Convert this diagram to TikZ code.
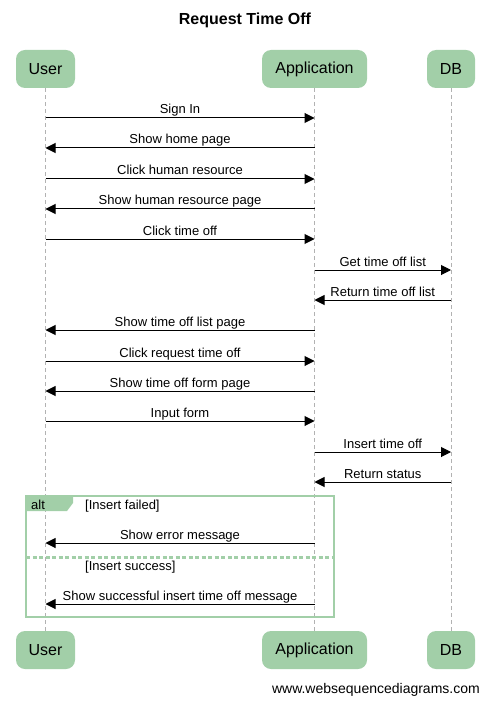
\documentclass[tikz,border=0pt]{standalone}
\usepackage{fontspec}
\setmainfont{Liberation Sans}
\usetikzlibrary{arrows.meta,positioning}
\definecolor{actgreen}{RGB}{162,207,168}

\tikzset{
  actor/.style = {
    fill = actgreen,
    rounded corners = 9pt,
    minimum height = 38pt,
    inner xsep = 6pt,
    font = \fontsize{16}{18}\selectfont
  },
  lifeline/.style = {gray!60, dashed, dash pattern = on 4pt off 3pt, line width = 0.8pt},
  msg/.style = {-{Triangle[length=10pt,width=10pt]}, line width = 1pt},
  msgtext/.style = {anchor = base, inner sep = 0pt, yshift = 4pt, font = \fontsize{13}{15}\selectfont}
}
% message from lifeline #1 to lifeline #2 at height #3
\newcommand{\callmsg}[4]{%
  \draw[msg] (#1 |- 0,#3) -- node[msgtext]{#4} (#2 |- 0,#3);}

\begin{document}
\begin{tikzpicture}[x=1pt,y=-1pt]
  \useasboundingbox (0,0) rectangle (490,703);

  \node[font=\bfseries\fontsize{16}{18}\selectfont] (title) at (245,20) {Request Time Off};

  % actors, top and bottom
  \node[actor, minimum width = 59pt] (user) at (45.5,69) {User};
  \node[actor, minimum width = 105pt] (app) at (314.5,69) {Application};
  \node[actor, minimum width = 48pt] (db) at (451,69) {DB};
  \node[actor, minimum width = 59pt] (userb) at (45.5,650) {User};
  \node[actor, minimum width = 105pt] (appb) at (314.5,650) {Application};
  \node[actor, minimum width = 48pt] (dbb) at (451,650) {DB};

  \draw[lifeline] (user) -- (userb);
  \draw[lifeline] (app) -- (appb);
  \draw[lifeline] (db) -- (dbb);

  \callmsg{user}{app}{118}{Sign In}
  \callmsg{app}{user}{148}{Show home page}
  \callmsg{user}{app}{179}{Click human resource}
  \callmsg{app}{user}{209}{Show human resource page}
  \callmsg{user}{app}{239}{Click time off}
  \callmsg{app}{db}{270}{Get time off list}
  \callmsg{db}{app}{300}{Return time off list}
  \callmsg{app}{user}{330}{Show time off list page}
  \callmsg{user}{app}{361}{Click request time off}
  \callmsg{app}{user}{391}{Show time off form page}
  \callmsg{user}{app}{421}{Input form}
  \callmsg{app}{db}{452}{Insert time off}
  \callmsg{db}{app}{482}{Return status}

  % alt frame
  \fill[actgreen] (26,496) -- (73,496) -- (73,503) -- (67,511) -- (26,511) -- cycle;
  \draw[actgreen, line width = 2pt] (26,496) rectangle (334,617);
  \draw[actgreen, line width = 3pt, dash pattern = on 4pt off 2.5pt] (26,557) -- (334,557);
  \node[anchor=base west, inner sep=0pt, font=\fontsize{13}{15}\selectfont] (alt) at (31,509) {alt};
  \node[anchor=base west, inner sep=0pt, font=\fontsize{13}{15}\selectfont] (fail) at (85,509) {[Insert failed]};
  \node[anchor=base west, inner sep=0pt, font=\fontsize{13}{15}\selectfont] (ok) at (85,570) {[Insert success]};

  \callmsg{app}{user}{543}{Show error message}
  \callmsg{app}{user}{604}{Show successful insert time off message}

  \node[anchor=base east, inner sep=0pt, font=\fontsize{14}{16}\selectfont] (site) at (480,693) {www.websequencediagrams.com};
\end{tikzpicture}
\end{document}
